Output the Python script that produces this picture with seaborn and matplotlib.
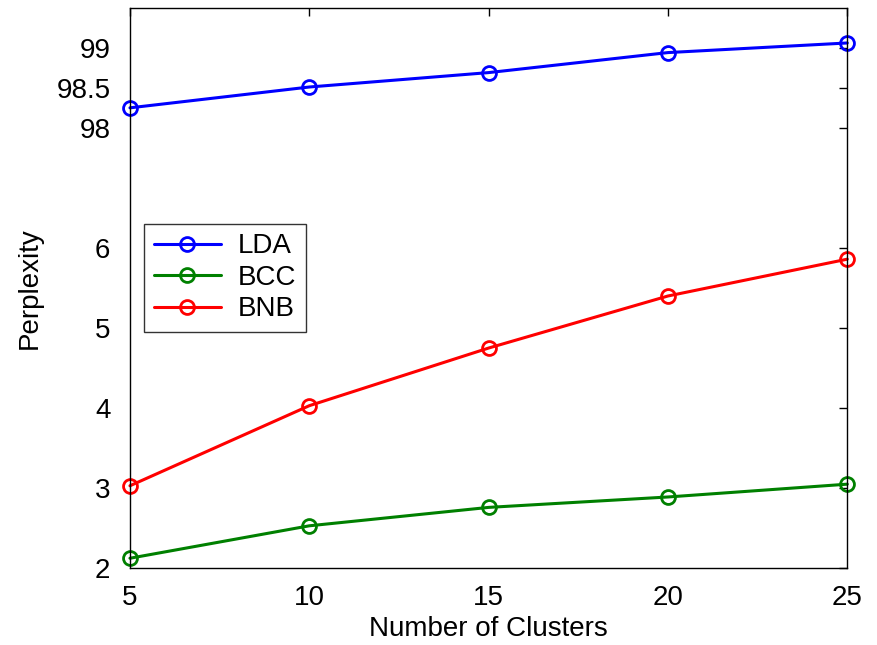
import numpy as np
import pandas as pd
import matplotlib
matplotlib.use("Agg")
import matplotlib.pyplot as plt
import seaborn as sns

clusters = [5, 10, 15, 20, 25]
lda = [98.25, 98.51, 98.69, 98.94, 99.06]
bcc = [2.125, 2.53, 2.76, 2.89, 3.05]
bnb = [3.03, 4.03, 4.75, 5.40, 5.86]
ytick_vals = [2, 3, 4, 5, 6, 98, 98.5, 99]
ytick_labels = ['2', '3', '4', '5', '6', '98', '98.5', '99']

sns.set_style("white")
plt.rcParams['font.family'] = ['Liberation Sans', 'DejaVu Sans']
plt.rcParams['font.size'] = 20
plt.rcParams['text.color'] = 'black'
plt.rcParams['axes.labelcolor'] = 'black'

# squeeze the empty range 6..98 into 1.5 units
def fwd(v):
    v = np.asarray(v, dtype=float)
    return np.where(v <= 6, v, np.where(v >= 98, v - 90.5, 6 + (v - 6) / 92 * 1.5))

def inv(t):
    t = np.asarray(t, dtype=float)
    return np.where(t <= 6, t, np.where(t >= 7.5, t + 90.5, 6 + (t - 6) / 1.5 * 92))

df = pd.DataFrame({
    'clusters': clusters * 3,
    'perplexity': lda + bcc + bnb,
    'method': ['LDA'] * 5 + ['BCC'] * 5 + ['BNB'] * 5,
})
colors = {'LDA': '#0000ff', 'BCC': '#008000', 'BNB': '#ff0000'}

fig = plt.figure(figsize=(8.78, 6.45), dpi=100)
ax = fig.add_axes([0.148, 0.119, 0.817, 0.869])
ax.set_yscale('function', functions=(fwd, inv))

for m in ['LDA', 'BCC', 'BNB']:
    sns.lineplot(data=df[df.method == m], x='clusters', y='perplexity', ax=ax,
                 color=colors[m], label=m, marker='o', markersize=10,
                 markerfacecolor='none', markeredgecolor=colors[m],
                 markeredgewidth=2, linewidth=2.2, clip_on=False)

ax.set_xlim(5, 25)
ax.set_ylim(2, 99.5)
ax.set_xticks([5, 10, 15, 20, 25])
ax.set_yticks(ytick_vals)
ax.set_yticklabels(ytick_labels)
ax.minorticks_off()
ax.tick_params(direction='in', length=6, width=1, top=True, right=True,
               labelsize=20, colors='black')
ax.tick_params(axis='y', pad=14)
ax.tick_params(axis='x', pad=12)
for s in ax.spines.values():
    s.set_color('black')
    s.set_linewidth(1)
ax.set_xlabel('Number of Clusters', fontsize=20, labelpad=4)
ax.set_ylabel('Perplexity', fontsize=20, labelpad=10)

leg = ax.legend(loc='upper left', bbox_to_anchor=(0.02, 0.615), borderaxespad=0,
                fontsize=20, frameon=True, fancybox=False, edgecolor='black',
                handlelength=2.4, labelspacing=0.2, borderpad=0.35, handletextpad=0.6)
leg.get_frame().set_linewidth(1)

fig.savefig('out.png', dpi=100)
